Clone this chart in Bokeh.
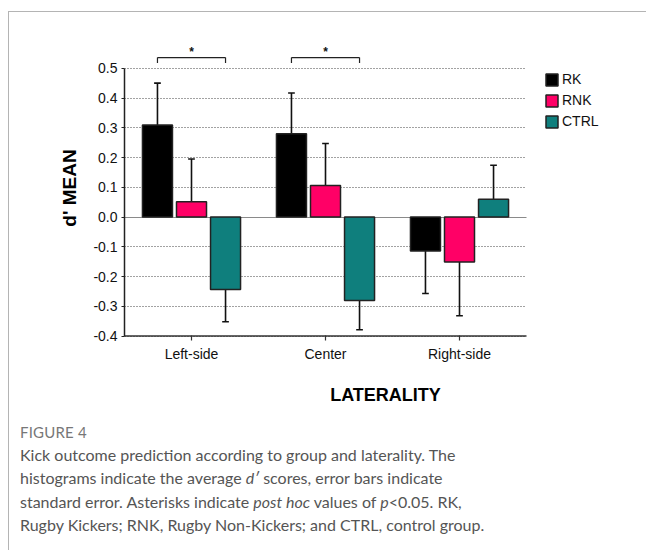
from bokeh.plotting import figure
from bokeh.models import (ColumnDataSource, FixedTicker, Legend, LegendItem,
                          Div, Range1d, PrintfTickFormatter, Grid)
from bokeh.layouts import column
from bokeh.embed import file_html
from bokeh.resources import INLINE
from bokeh.core.properties import value

# ---------------- data ----------------
categories = ["Left-side", "Center", "Right-side"]
groups = ["RK", "RNK", "CTRL"]
group_colors = ["#000000", "#ff0066", "#0f7f7d"]
rk_mean = [0.309, 0.280, -0.114]
rnk_mean = [0.051, 0.106, -0.151]
ctrl_mean = [-0.244, -0.281, 0.060]
rk_se = [0.141, 0.137, 0.143]
rnk_se = [0.144, 0.141, 0.181]
ctrl_se = [0.108, 0.098, 0.114]
y_ticks = [-0.4, -0.3, -0.2, -0.1, 0.0, 0.1, 0.2, 0.3, 0.4, 0.5]
# significant comparisons: (category index, group a, group b, label)
sig_pairs = [(0, "RK", "CTRL", "*"), (1, "RK", "CTRL", "*")]

means = [rk_mean, rnk_mean, ctrl_mean]
ses = [rk_se, rnk_se, ctrl_se]

# ---------------- layout constants ----------------
BAR_W = 0.224
BAR_STEP = 0.254
CAP_W = 0.05
SIG_Y = 0.536
SIG_TICK = 0.018
N = len(categories)
X_END = N + 0.8955    # extra room on the right for the legend
Y0 = min(y_ticks)

p = figure(width=637, height=398, output_backend="svg", toolbar_location=None,
           x_range=Range1d(0, X_END), y_range=Range1d(Y0 - 0.005, 0.6),
           min_border_left=115, min_border_right=0, min_border_top=26,
           min_border_bottom=73)
p.outline_line_color = None
p.background_fill_color = None
p.border_fill_color = None
p.xgrid.visible = False

# horizontal dotted grid limited to the data area, solid zero line
gy = [t for t in y_ticks if t != 0]
p.ygrid.ticker = FixedTicker(ticks=gy)
p.ygrid.grid_line_color = "#444444"
p.ygrid.grid_line_dash = "1 2"
p.ygrid.grid_line_width = 1
p.ygrid.cross_bounds = (0, N)
zg = Grid(dimension=1, ticker=FixedTicker(ticks=[0]), grid_line_color="#8a8a8a",
          grid_line_width=1.2, cross_bounds=(0, N))
p.add_layout(zg)

# x-axis baseline
p.segment(x0=[0], x1=[N], y0=[Y0], y1=[Y0], line_color="#333333", line_width=1.5)

renderers = []
for gi, g in enumerate(groups):
    off = (gi - 1) * BAR_STEP
    xs = [ci + 0.5 + off for ci in range(N)]
    m = means[gi]
    s = ses[gi]
    ends = [mv + (se if mv >= 0 else -se) for mv, se in zip(m, s)]
    src = ColumnDataSource(dict(x=xs, top=m, end=ends,
                                cx0=[x - CAP_W / 2 for x in xs],
                                cx1=[x + CAP_W / 2 for x in xs]))
    p.segment(x0="x", y0="top", x1="x", y1="end", source=src,
              line_color="#111111", line_width=1.6)
    p.segment(x0="cx0", y0="end", x1="cx1", y1="end", source=src,
              line_color="#111111", line_width=1.6)
    r = p.vbar(x="x", top="top", bottom=0, width=BAR_W, source=src,
               fill_color=group_colors[gi], line_color="#222222", line_width=1.5)
    renderers.append(r)

# significance brackets
bx0, bx1, by0, by1, ax, ay, at = [], [], [], [], [], [], []
for ci, ga, gb, lab in sig_pairs:
    xa = ci + 0.5 + (groups.index(ga) - 1) * BAR_STEP
    xb = ci + 0.5 + (groups.index(gb) - 1) * BAR_STEP
    bx0 += [xa, xa, xb]
    bx1 += [xb, xa, xb]
    by0 += [SIG_Y, SIG_Y, SIG_Y]
    by1 += [SIG_Y, SIG_Y - SIG_TICK, SIG_Y - SIG_TICK]
    ax.append((xa + xb) / 2)
    ay.append(SIG_Y + 0.019)
    at.append(lab)
p.segment(x0=bx0, x1=bx1, y0=by0, y1=by1, line_color="#222222", line_width=1.2)
p.text(x=ax, y=ay, text=at, text_align="center", text_baseline="middle",
       text_font=value("Liberation Sans"), text_font_size="12px",
       text_font_style="bold", text_color="#111111")

# axes
yax = p.yaxis[0]
yax.ticker = FixedTicker(ticks=y_ticks)
yax.formatter = PrintfTickFormatter(format="%.1f")
yax.bounds = (min(y_ticks), max(y_ticks))
yax.axis_line_width = 1.5
yax.axis_line_color = "#222222"
yax.major_tick_in = 0
yax.major_tick_out = 3
yax.major_tick_line_color = "#222222"
yax.minor_tick_line_color = None
yax.major_label_text_font = "Liberation Sans"
yax.major_label_text_font_size = "14px"
yax.major_label_text_color = "#111111"
yax.major_label_standoff = 4
yax.axis_label = "d' MEAN"
yax.axis_label_text_font = "Liberation Sans"
yax.axis_label_text_font_size = "19px"
yax.axis_label_text_font_style = "bold"
yax.axis_label_text_color = "#000000"
yax.axis_label_standoff = 10

xax = p.xaxis[0]
xax.ticker = FixedTicker(ticks=[i + 0.5 for i in range(N)])
xax.major_label_overrides = {i + 0.5: c for i, c in enumerate(categories)}
xax.axis_line_color = None
xax.major_tick_in = 2
xax.major_tick_out = 3
xax.major_tick_line_color = "#333333"
xax.major_tick_line_width = 1.2
xax.minor_tick_line_color = None
xax.major_label_text_font = "Liberation Sans"
xax.major_label_text_font_size = "14px"
xax.major_label_text_color = "#111111"
xax.major_label_standoff = 5
xax.axis_label = "LATERALITY"
xax.axis_label_text_font = "Liberation Sans"
xax.axis_label_text_font_size = "18px"
xax.axis_label_text_font_style = "bold"
xax.axis_label_text_color = "#000000"
xax.axis_label_standoff = 20

legend = Legend(items=[LegendItem(label=g, renderers=[r]) for g, r in zip(groups, renderers)],
                location=(420, 206), margin=0, padding=0, spacing=1,
                glyph_width=15, glyph_height=15, label_height=20,
                label_standoff=3, border_line_color=None,
                background_fill_alpha=0,
                label_text_font="Liberation Sans", label_text_font_size="14px",
                label_text_color="#111111")
p.add_layout(legend)

caption = (
    '<div style="padding:13px 0 0 11px; font-family:Lato; white-space:nowrap;">'
    '<div style="font-size:15px; line-height:18px; color:#777777; letter-spacing:0.2px;">FIGURE 4</div>'
    '<div style="font-size:16px; line-height:23.4px; margin-top:2px; color:#555555;">'
    'Kick outcome prediction according to group and laterality. The<br>'
    'histograms indicate the average <i>d\u2032</i> scores, error bars indicate<br>'
    'standard error. Asterisks indicate <i>post hoc</i> values of <i>p</i>&lt;0.05. RK,<br>'
    'Rugby Kickers; RNK, Rugby Non-Kickers; and CTRL, control group.'
    '</div></div>'
)
div = Div(text=caption, width=637, height=140, margin=0)

layout = column(p, div, spacing=0,
                styles={"border-left": "1px solid #b4b4b4",
                        "border-top": "1px solid #b4b4b4",
                        "margin-top": "11px", "margin-left": "8px"})

open("out.html", "w").write(file_html(layout, INLINE))
